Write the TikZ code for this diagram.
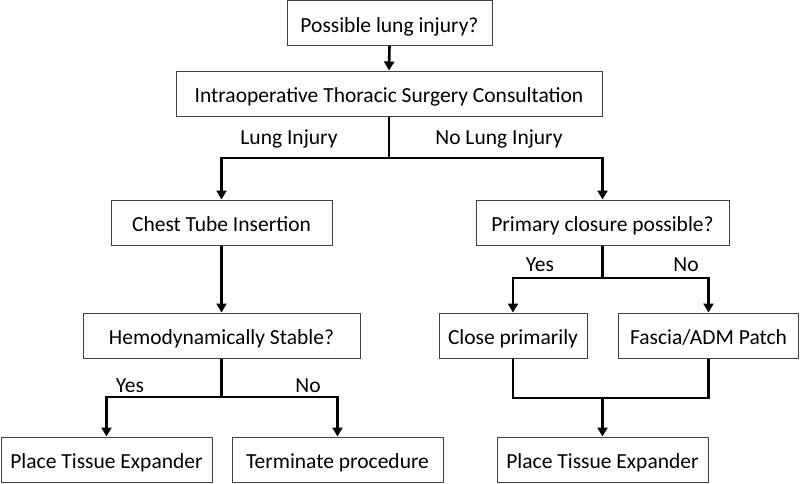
\documentclass[tikz,border=0pt]{standalone}
\usepackage{fontspec}
\setmainfont{Carlito}
\usetikzlibrary{arrows.meta}
\begin{document}
\begin{tikzpicture}[x=1pt,y=-1pt,
  box/.style={draw=black!75,line width=1pt,rectangle,inner sep=0pt,minimum height=45pt,text height=18pt,text depth=0pt,font=\fontsize{21.5}{25}\selectfont},
  lab/.style={inner sep=0pt,font=\fontsize{21.5}{25}\selectfont},
  conn/.style={line width=2.6pt},
  arr/.style={line width=2.6pt,-{Triangle[length=9pt,width=10pt]}}]
\useasboundingbox (0,0) rectangle (800,483);
\node[box,minimum width=205pt] (p1) at (389.5,23) {Possible lung injury?};
\node[box,minimum width=426pt] (p2) at (389,93.5) {Intraoperative Thoracic Surgery Consultation};
\node[box,minimum width=221pt] (ct) at (221.5,222.5) {Chest Tube Insertion};
\node[box,minimum width=253pt] (pc) at (602.5,222.5) {Primary closure possible?};
\node[box,minimum width=277pt] (hs) at (221.5,335.5) {Hemodynamically Stable?};
\node[box,minimum width=148pt] (cp) at (513,335.5) {Close primarily};
\node[box,minimum width=180pt] (fa) at (708.5,335.5) {Fascia/ADM Patch};
\node[box,minimum width=211pt] (pt1) at (106.5,459.5) {Place Tissue Expander};
\node[box,minimum width=211pt] (tp) at (337.5,459.5) {Terminate procedure};
\node[box,minimum width=211pt] (pt2) at (602.5,459.5) {Place Tissue Expander};
\node[lab] (l1) at (289,139) {Lung Injury};
\node[lab] (l2) at (499,139) {No Lung Injury};
\node[lab] (l3) at (540,265) {Yes};
\node[lab] (l4) at (686,265) {No};
\node[lab] (l5) at (130,386) {Yes};
\node[lab] (l6) at (308,386) {No};
\coordinate (j1) at (389,158);
\coordinate (j2) at (602.5,278);
\coordinate (j3) at (221.5,397);
\coordinate (j4) at (602.5,398);
\coordinate (m1) at (513,398);
\coordinate (m2) at (708.5,398);
\draw[arr] (p1.south) -- (p2.north);
\draw[conn] (p2.south) -- (j1);
\draw[arr] (j1) -| (ct.north);
\draw[arr] (j1) -| (pc.north);
\draw[arr] (ct.south) -- (hs.north);
\draw[conn] (hs.south) -- (j3);
\draw[arr] (j3) -| (pt1.north);
\draw[arr] (j3) -| (tp.north);
\draw[conn] (pc.south) -- (j2);
\draw[arr] (j2) -| (cp.north);
\draw[arr] (j2) -| (fa.north);
\draw[conn] (cp.south) -- (m1) -- (m2) -- (fa.south);
\draw[arr] (j4) -- (pt2.north);
\end{tikzpicture}
\end{document}
